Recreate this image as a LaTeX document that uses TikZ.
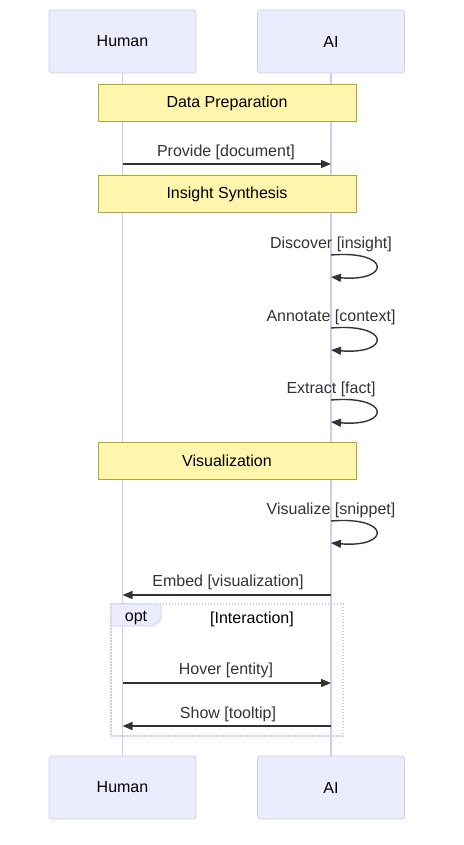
\documentclass[tikz,border=0pt]{standalone}
\usepackage{fontspec}
\setmainfont{Liberation Sans}
\usetikzlibrary{arrows.meta}
\definecolor{actfill}{HTML}{ECECFF}
\definecolor{actline}{HTML}{D3C9F2}
\definecolor{notefill}{HTML}{FFF5AD}
\definecolor{noteline}{HTML}{AAAA33}
\definecolor{msg}{HTML}{333333}
\newcommand{\lowtxt}[1]{\raisebox{-1.5pt}{#1}}
\begin{document}
\begin{tikzpicture}[x=1pt,y=-1pt,
  actor/.style={draw=actline,fill=actfill,rounded corners=3pt,minimum width=147pt,minimum height=63pt,font=\fontsize{16}{19}\selectfont,line width=0.8pt},
  notebox/.style={draw=noteline,fill=notefill,minimum width=258pt,minimum height=37pt,font=\fontsize{16}{19}\selectfont,line width=0.8pt},
  lifeline/.style={draw=actline,line width=1.5pt},
  msgline/.style={draw=msg,line width=1.4pt,-{Triangle[length=10pt,width=8pt]}},
  msglabel/.style={text=msg,font=\fontsize{16}{19}\selectfont,inner sep=0pt},
]
\useasboundingbox (0,0) rectangle (463,845);
% actors
\node[actor] (h1) at (122.5,41.5) {\lowtxt{Human}};
\node[actor] (a1) at (331,41.5) {\lowtxt{AI}};
\node[actor] (h2) at (122.5,787.5) {\lowtxt{Human}};
\node[actor] (a2) at (331,787.5) {\lowtxt{AI}};
\draw[lifeline] (h1.south) -- (h2.north);
\draw[lifeline] (a1.south) -- (a2.north);
% notes
\node[notebox] (n1) at (227,103) {\lowtxt{Data Preparation}};
\node[notebox] (n2) at (227,194) {\lowtxt{Insight Synthesis}};
\node[notebox] (n3) at (227,461) {\lowtxt{Visualization}};
% Provide
\coordinate (p1) at (122.5,164);
\coordinate (p2) at (331,164);
\draw[msgline] (p1) -- (p2);
\node[msglabel] (lp) at (226,152.5) {Provide [document]};
% self loops
\foreach \nm/\lab/\ly/\yy in {d/Discover [insight]/244.5/255, an/Annotate [context]/317.5/328, ex/Extract [fact]/389.5/400, vi/Visualize [snippet]/510.5/521}{
  \coordinate (\nm s) at (331,\yy);
  \coordinate (\nm e) at (331,\yy+22);
  \draw[msgline] (\nm s) .. controls (391,\yy-5) and (391,\yy+27) .. (\nm e);
  \node[msglabel] (\nm l) at (331,\ly) {\lab};
}
% Embed
\coordinate (e1) at (331,595);
\coordinate (e2) at (122.5,595);
\draw[msgline] (e1) -- (e2);
\node[msglabel] (le) at (228,582.5) {Embed [visualization]};
% opt box
\draw[actline,line width=1.2pt,dash pattern=on 1.5pt off 1.5pt] (111,604) rectangle (343,736);
\draw[draw=actline,fill=actfill,line width=0.8pt] (111,604) -- (161,604) -- (161,619) -- (154,626) -- (111,626) -- cycle;
\node[msglabel,text=black] (opt) at (136,618) {opt};
\node[msglabel,text=black] (int) at (252,619) {[Interaction]};
% Hover
\coordinate (hv1) at (122.5,683);
\coordinate (hv2) at (331,683);
\draw[msgline] (hv1) -- (hv2);
\node[msglabel] (lh) at (226,670.5) {Hover [entity]};
% Show
\coordinate (s1) at (331,726);
\coordinate (s2) at (122.5,726);
\draw[msgline] (s1) -- (s2);
\node[msglabel] (ls) at (228,714.5) {Show [tooltip]};
\end{tikzpicture}
\end{document}
